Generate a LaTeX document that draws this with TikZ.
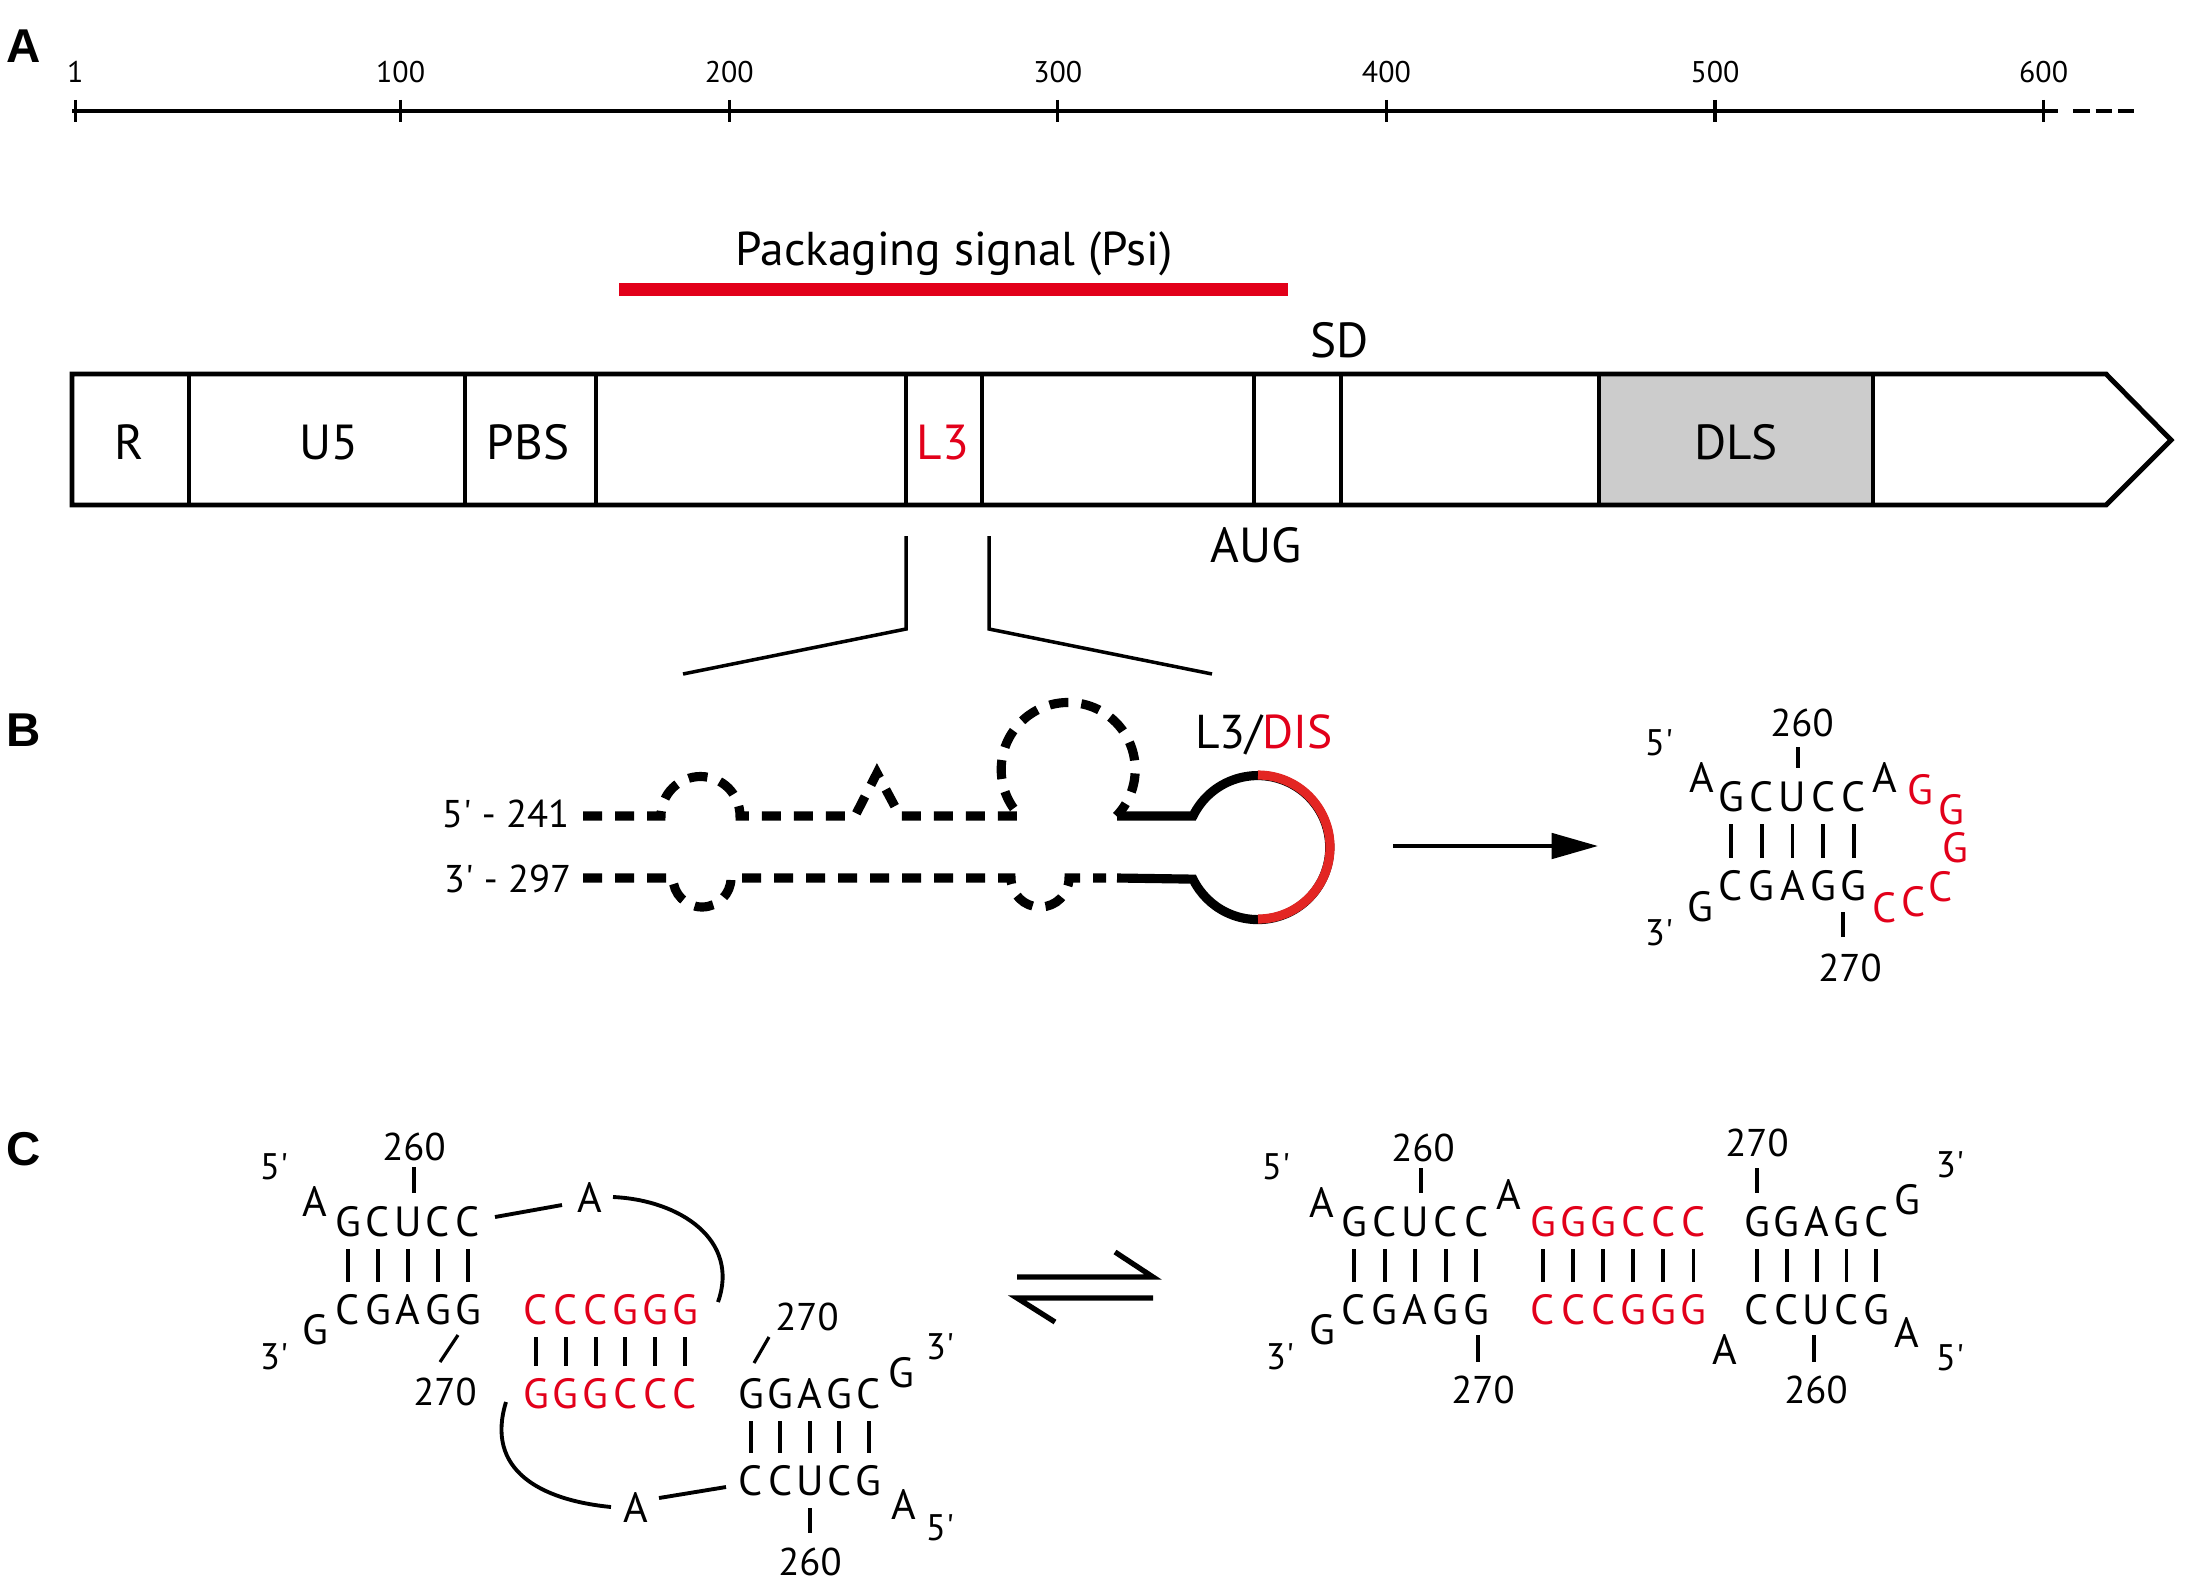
\documentclass[tikz,border=0pt]{standalone}
\usepackage{fontspec}
\setmainfont{PT Sans}
\newfontfamily\panelfont{Liberation Sans}
\usetikzlibrary{arrows.meta}

\definecolor{psired}{RGB}{226,0,26}
\definecolor{disred}{RGB}{227,38,35}
\definecolor{dlsgray}{RGB}{204,204,204}

\tikzset{
  txt/.style={inner sep=0pt, text depth=0pt},
  panellab/.style={txt, font=\panelfont\bfseries\fontsize{13.5}{16}\selectfont, text height=9.7pt},
  ticklab/.style={txt, font=\fontsize{8.5}{10}\selectfont, text height=5.95pt},
  seglab/.style={txt, font=\fontsize{14}{17}\selectfont, text height=9.8pt},
  biglab/.style={txt, font=\fontsize{13.5}{16}\selectfont, text height=9.45pt},
  ntd/.style={txt, font=\fontsize{12}{14}\selectfont, text height=8.4pt},
  posnum/.style={txt, font=\fontsize{11}{13}\selectfont, text height=7.7pt},
  endlab/.style={txt, font=\fontsize{10.5}{12}\selectfont, text height=7.35pt},
  strand/.style={line width=2.6pt},
  dashstrand/.style={strand, dash pattern=on 5.4pt off 3.7pt},
  pair/.style={line width=1.1pt, shorten <=3.4pt, shorten >=3.6pt},
  postick/.style={line width=0.9pt},
  backbone/.style={line width=1.1pt},
  harpoon/.style={line width=1.5pt, line join=miter},
}
\newcommand{\pr}{\textquotesingle}

\begin{document}
\begin{tikzpicture}[x=0.01cm, y=0.01cm]
  \useasboundingbox (0,0) rectangle (2189,-1591);

  % panel letters
  \node[panellab] (pa) at (24,-45) {A};
  \node[panellab] (pb) at (24,-729) {B};
  \node[panellab] (pc) at (24,-1148) {C};

  % ---- A: ruler
  \draw[line width=1.4pt] (72,-111) -- (2058,-111);
  \draw[line width=1.4pt, dash pattern=on 4.8pt off 1.6pt] (2073,-111) -- (2134,-111);
  \foreach \n in {1,100,200,...,600} {
    \draw[line width=0.9pt] ({72+3.286*\n},-100) -- ({72+3.286*\n},-122);
    \node[ticklab] (t\n) at ({72+3.286*\n},-72) {\n};
  }

  % packaging signal
  \node[biglab] (psi) at (954,-249) {Packaging signal (Psi)};
  \fill[psired] (619,-283) rectangle (1288,-296);

  % genome
  \fill[dlsgray] (1599,-374) rectangle (1873,-505);
  \draw[line width=0.9pt] foreach \x in {189,465,596,906,982,1254,1341,1599,1873} {(\x,-374) -- (\x,-505)};
  \draw[line width=1.4pt, line join=miter] (72,-374) -- (2106,-374) -- (2171,-440) -- (2106,-505) -- (72,-505) -- cycle;
  \node[seglab] (r) at (129,-442) {R};
  \node[seglab] (u5) at (329,-442) {U5};
  \node[seglab] (pbs) at (528,-442) {PBS};
  \node[seglab, text=psired] (l3) at (943,-442) {L3};
  \node[seglab] (dls) at (1736,-442) {DLS};
  \node[seglab] (sd) at (1340,-340) {SD};
  \node[seglab] (aug) at (1256,-545) {AUG};

  % zoom into L3
  \draw[line width=1pt] (906,-536) -- (906,-629) -- (683,-674);
  \draw[line width=1pt] (989,-536) -- (989,-629) -- (1212,-674);

  % ---- B: stem
  \node[posnum, anchor=east] (s5) at (570,-814) {5\pr\ - 241};
  \node[posnum, anchor=east] (s3) at (572,-879) {3\pr\ - 297};
  \draw[dashstrand] (583,-816) -- (661,-816) arc[start angle=180, end angle=0, radius=39.5]
    -- (855,-816) -- (877,-773) -- (900,-816) -- (1020,-816)
    arc[start angle=224, end angle=-44, radius=67];
  \draw[dashstrand] (583,-878) -- (673,-878) arc[start angle=180, end angle=360, radius=29]
    -- (1011,-878) arc[start angle=180, end angle=360, radius=29] -- (1106,-878);
  \draw[strand] (1117,-816) -- (1193,-816) arc[start angle=154, end angle=-154, radius=72] -- (1117,-878);
  \draw[strand, disred] (1258,-775) arc[start angle=90, end angle=-90, radius=72];
  \node[biglab] (dis) at (1264,-732) {L3/\textcolor{psired}{DIS}};

  \coordinate (arrfrom) at (1393,-846);
  \coordinate (arrto) at (1598,-846);
  \draw[line width=1.15pt, -{Triangle[length=13.2pt, width=7.2pt]}] (arrfrom) -- (arrto);

  % B: L3 hairpin
  \foreach \l [count=\i] in {G,C,U,C,C}
    \node[ntd] (bt\i) at ({1731+30.7*(\i-1)},-797) {\l};
  \foreach \l [count=\i] in {C,G,A,G,G}
    \node[ntd] (bb\i) at ({1731+30.7*(\i-1)},-886) {\l};
  \foreach \i in {1,...,5}
    \draw[pair] (bt\i) -- (bb\i);
  \node[ntd] (ba5) at (1702,-778) {A};
  \node[ntd] (ba3) at (1885,-778) {A};
  \foreach \l/\x/\y [count=\i] in {G/1920/790, G/1951/810, G/1955/848, C/1941/887, C/1914/902, C/1885/908}
    \node[ntd, text=psired] (bl\i) at (\x,-\y) {\l};
  \node[ntd] (bg3) at (1700,-907) {G};
  \node[endlab] (b5p) at (1659,-743) {5\pr};
  \node[endlab] (b3p) at (1659,-933) {3\pr};
  \node[posnum] (b260) at (1802,-723) {260};
  \draw[postick] ([shift={(-4,-24)}]b260.center) -- ++(0,-21);
  \node[posnum] (b270) at (1850,-968) {270};
  \draw[postick] ([shift={(-7,31)}]b270.center) -- ++(0,25);

  % ---- C: kissing complex
  \foreach \l [count=\i] in {G,C,U,C,C}
    \node[ntd] (lt\i) at ({348+30*(\i-1)},-1222) {\l};
  \foreach \l [count=\i] in {C,G,A,G,G}
    \node[ntd] (lb\i) at ({348+30*(\i-1)},-1310) {\l};
  \foreach \l [count=\i] in {C,C,C,G,G,G}
    \node[ntd, text=psired] (kt\i) at ({536+29.8*(\i-1)},-1310) {\l};
  \foreach \l [count=\i] in {G,G,G,C,C,C}
    \node[ntd, text=psired] (kb\i) at ({536+29.8*(\i-1)},-1394) {\l};
  \foreach \l [count=\i] in {G,G,A,G,C}
    \node[ntd] (mt\i) at ({751+29.4*(\i-1)},-1394) {\l};
  \foreach \l [count=\i] in {C,C,U,C,G}
    \node[ntd] (mb\i) at ({751+29.4*(\i-1)},-1481) {\l};
  \foreach \i in {1,...,5} {
    \draw[pair] (lt\i) -- (lb\i);
    \draw[pair] (mt\i) -- (mb\i);
  }
  \foreach \i in {1,...,6}
    \draw[pair] (kt\i) -- (kb\i);

  \node[ntd] (la5) at (315,-1202) {A};
  \node[ntd] (lg3) at (315,-1330) {G};
  \node[endlab] (l5p) at (274,-1167) {5\pr};
  \node[endlab] (l3p) at (274,-1357) {3\pr};
  \node[posnum] (l260) at (414,-1147) {260};
  \draw[postick] ([shift={(0,-20)}]l260.center) -- ++(0,-26);
  \node[posnum] (l270) at (445,-1392) {270};
  \draw[postick] ([shift={(13,57)}]l270.center) -- ([shift={(-5,30)}]l270.center);

  \node[ntd] (la1) at (590,-1198) {A};
  \draw[backbone] ([shift={(27,5)}]lt5.center) -- ([shift={(-28,-7)}]la1.center);
  \draw[backbone] ([shift={(23,1)}]la1.center) .. controls +(67,-3) and +(22,62) .. ([shift={(33,8)}]kt6.center);

  \node[ntd] (la2) at (636,-1508) {A};
  \draw[backbone] ([shift={(-30,-8)}]kb1.center) .. controls +(-21,-68) and +(-71,7) .. ([shift={(-25,1)}]la2.center);
  \draw[backbone] ([shift={(23,10)}]la2.center) -- ([shift={(-25,-6)}]mb1.center);

  \node[ntd] (mg3) at (901,-1373) {G};
  \node[endlab] (m3p) at (940,-1347) {3\pr};
  \node[posnum] (m270) at (807,-1317) {270};
  \draw[postick] ([shift={(-38,-20)}]m270.center) -- ([shift={(-53,-46)}]m270.center);
  \node[ntd] (ma5) at (904,-1505) {A};
  \node[endlab] (m5p) at (940,-1528) {5\pr};
  \node[posnum] (m260) at (810,-1562) {260};
  \draw[postick] ([shift={(0,54)}]m260.center) -- ++(0,-25);

  % equilibrium
  \draw[harpoon] (1017,-1277) -- (1153,-1277) -- (1115,-1252);
  \draw[harpoon] (1153,-1298) -- (1017,-1298) -- (1055,-1322);

  % C: extended duplex
  \foreach \l [count=\i] in {G,C,U,C,C}
    \node[ntd] (rt\i) at ({1354+30.6*(\i-1)},-1222) {\l};
  \foreach \l [count=\i] in {C,G,A,G,G}
    \node[ntd] (rb\i) at ({1354+30.6*(\i-1)},-1310) {\l};
  \foreach \l [count=\i] in {G,G,G,C,C,C}
    \node[ntd, text=psired] (rkt\i) at ({1543+30.1*(\i-1)},-1222) {\l};
  \foreach \l [count=\i] in {C,C,C,G,G,G}
    \node[ntd, text=psired] (rkb\i) at ({1543+30.1*(\i-1)},-1310) {\l};
  \foreach \l [count=\i] in {G,G,A,G,C}
    \node[ntd] (rmt\i) at ({1757+29.8*(\i-1)},-1222) {\l};
  \foreach \l [count=\i] in {C,C,U,C,G}
    \node[ntd] (rmb\i) at ({1757+29.8*(\i-1)},-1310) {\l};
  \foreach \i in {1,...,5} {
    \draw[pair] (rt\i) -- (rb\i);
    \draw[pair] (rmt\i) -- (rmb\i);
  }
  \foreach \i in {1,...,6}
    \draw[pair] (rkt\i) -- (rkb\i);

  \node[endlab] (r5p) at (1276,-1167) {5\pr};
  \node[ntd] (ra5) at (1322,-1203) {A};
  \node[posnum] (r260) at (1423,-1148) {260};
  \draw[postick] ([shift={(-2,-20)}]r260.center) -- ++(0,-25);
  \node[ntd] (ra1) at (1509,-1195) {A};
  \node[posnum] (r270t) at (1757,-1143) {270};
  \draw[postick] ([shift={(0,-25)}]r270t.center) -- ++(0,-25);
  \node[ntd] (rg3) at (1907,-1200) {G};
  \node[endlab] (r3p) at (1950,-1165) {3\pr};

  \node[ntd] (rg) at (1322,-1330) {G};
  \node[endlab] (r3pl) at (1280,-1357) {3\pr};
  \node[posnum] (r270b) at (1483,-1390) {270};
  \draw[postick] ([shift={(-5,55)}]r270b.center) -- ++(0,-27);
  \node[ntd] (ra2) at (1725,-1350) {A};
  \node[posnum] (r260b) at (1816,-1390) {260};
  \draw[postick] ([shift={(-2,55)}]r260b.center) -- ++(0,-27);
  \node[ntd] (ra3) at (1907,-1333) {A};
  \node[endlab] (r5pr) at (1950,-1358) {5\pr};
\end{tikzpicture}
\end{document}
